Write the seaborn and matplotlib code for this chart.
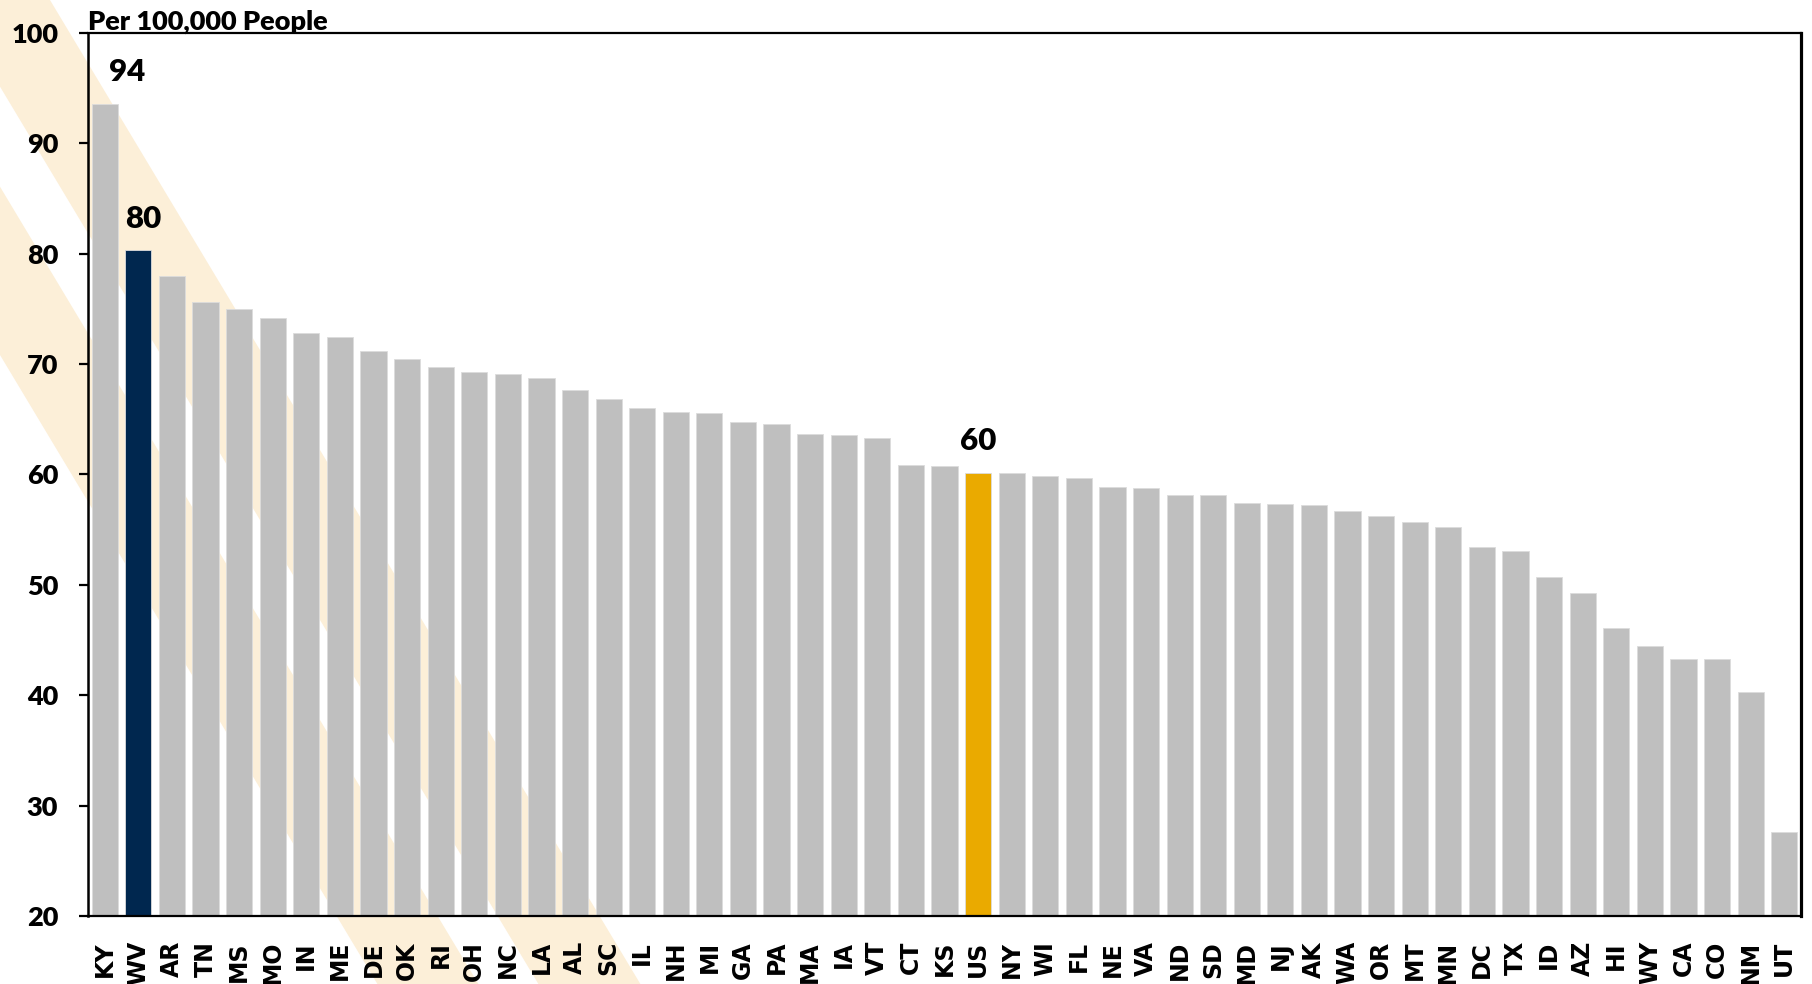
import matplotlib
matplotlib.use("Agg")
import matplotlib.pyplot as plt
from matplotlib.patches import Polygon
import seaborn as sns
import pandas as pd

# ---------------- data ----------------
states = ["KY", "WV", "AR", "TN", "MS", "MO", "IN", "ME", "DE", "OK", "RI", "OH", "NC",
          "LA", "AL", "SC", "IL", "NH", "MI", "GA", "PA", "MA", "IA", "VT", "CT", "KS",
          "US", "NY", "WI", "FL", "NE", "VA", "ND", "SD", "MD", "NJ", "AK", "WA", "OR",
          "MT", "MN", "DC", "TX", "ID", "AZ", "HI", "WY", "CA", "CO", "NM", "UT"]
rates = [93.6, 80.3, 78.0, 75.6, 75.0, 74.2, 72.8, 72.5, 71.2, 70.5, 69.7, 69.3, 69.1,
         68.7, 67.7, 66.8, 66.0, 65.7, 65.6, 64.8, 64.6, 63.7, 63.6, 63.3, 60.9, 60.8,
         60.1, 60.1, 59.9, 59.7, 58.9, 58.8, 58.1, 58.1, 57.4, 57.3, 57.2, 56.7, 56.2,
         55.7, 55.2, 53.4, 53.1, 50.7, 49.3, 46.1, 44.5, 43.3, 43.3, 40.3, 27.6]
labelled = {"KY": "94", "WV": "80", "US": "60"}
title_text = "Per 100,000 People"
y_ticks = [20, 30, 40, 50, 60, 70, 80, 90, 100]

# ---------------- style ----------------
GREY = "#BFBFBF"
NAVY = "#00274F"
GOLD = "#EAAA00"
BEIGE = "#FCEFD8"
special_colors = {"WV": NAVY, "US": GOLD}
label_dx_pt = {"KY": 16, "WV": 3.6, "US": 0}
HEAVY = "heavy"

sns.set_theme(style="white")
plt.rcParams["font.family"] = ["Lato", "DejaVu Sans"]

W, H = 1812, 984
fig = plt.figure(figsize=(W / 100, H / 100), dpi=100, facecolor="white")

# decorative diagonal watermark bands (pixel geometry, figure level, behind axes)
def band(x0_top, x1_top, slope=0.6, y_a=-20, y_b=1010):
    pts = [(x0_top + slope * y_a, y_a), (x1_top + slope * y_a, y_a),
           (x1_top + slope * y_b, y_b), (x0_top + slope * y_b, y_b)]
    return [(x / W, 1 - y / H) for x, y in pts]

for x0, x1 in [(-52, 50), (-213, -112)]:
    fig.patches.append(Polygon(band(x0, x1), closed=True, transform=fig.transFigure,
                               facecolor=BEIGE, edgecolor="none", zorder=-5))

ax = fig.add_axes([88 / W, 1 - 916 / H, (1801 - 88) / W, (916 - 33) / H])
ax.set_zorder(2)
ax.patch.set_alpha(0)

df = pd.DataFrame({"state": states, "rate": rates})
palette = {s: special_colors.get(s, GREY) for s in states}
sns.barplot(data=df, x="state", y="rate", hue="state", palette=palette, legend=False,
            width=0.78, saturation=1, edgecolor="#DCDCDC", linewidth=0.6, ax=ax)

ax.set_ylim(20, 100)
ax.set_xlim(-0.5, len(states) - 0.5)
ax.set_yticks(y_ticks)
ax.set_xlabel("")
ax.set_ylabel("")

for side, lw in [("left", 1.8), ("top", 1.6), ("bottom", 1.6), ("right", 2.3)]:
    ax.spines[side].set_visible(True)
    ax.spines[side].set_color("black")
    ax.spines[side].set_linewidth(lw)

ax.tick_params(axis="y", which="major", left=True, length=6.5, width=1.6,
               color="black", pad=15, labelsize=19.5)
ax.tick_params(axis="x", length=0, pad=18)
for t in ax.get_yticklabels():
    t.set_fontweight(HEAVY)
    t.set_color("black")
ax.set_xticks(range(len(states)))
ax.set_xticklabels(states, rotation=90, fontsize=17, fontweight="bold",
                   family=["DejaVu Sans"], color="black")

for i, (s, v) in enumerate(zip(states, rates)):
    if s in labelled:
        ax.annotate(labelled[s], xy=(i, v), xytext=(label_dx_pt[s], 16.5),
                    textcoords="offset points", ha="center", va="baseline",
                    fontsize=22.5, fontweight=HEAVY, color="black")

ax.annotate(title_text, xy=(0, 1), xycoords="axes fraction", xytext=(0, 2.5),
            textcoords="offset points", ha="left", va="baseline",
            fontsize=19.5, fontweight=HEAVY, color="black")

fig.savefig("out.png", dpi=100, facecolor="white")
